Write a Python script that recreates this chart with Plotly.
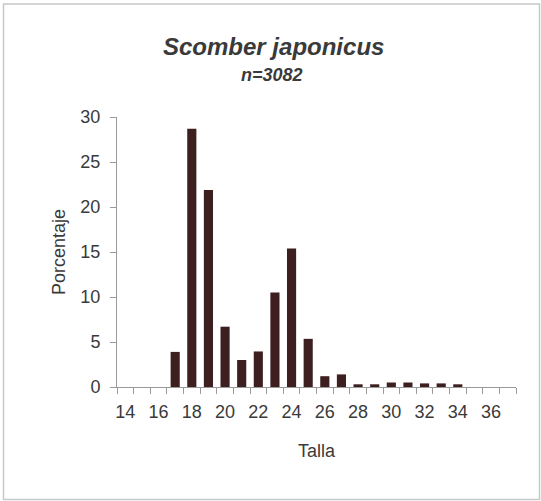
import plotly.graph_objects as go

# talla (cm) y porcentaje
tallas = list(range(14, 38))
porcentaje = [0, 0, 0, 3.9, 28.7, 21.9, 6.7, 3.0, 3.95, 10.5, 15.4, 5.35,
              1.2, 1.4, 0.3, 0.3, 0.5, 0.5, 0.4, 0.4, 0.3, 0, 0, 0]
etiquetas = [str(t) for t in range(14, 37, 2)]

TEXT = "#3a3a3a"
AXIS = "#9a9a9a"
FONT = "Liberation Sans, Arial, sans-serif"

fig = go.Figure(go.Bar(
    x=tallas, y=porcentaje,
    marker=dict(color="#3d1f1f", line=dict(width=0)),
    width=0.55,
))

# plot area in px: x 117-516, y 117-387
L, R, T, B = 117, 25, 117, 114
W, H = 541 - L - R, 501 - T - B


def px(x):
    return (x - L) / W


def py(y):
    return (501 - B - y) / H


fig.update_layout(
    width=541, height=501,
    margin=dict(l=L, r=R, t=T, b=B),
    paper_bgcolor="white", plot_bgcolor="white",
    font=dict(family=FONT, color=TEXT, size=18),
    showlegend=False,
    xaxis=dict(
        range=[13.5, 37.5],
        tickmode="array", tickvals=list(range(14, 37, 2)), ticktext=etiquetas,
        ticks="outside", ticklen=0, tickcolor=AXIS,
        minor=dict(ticks="outside", tick0=13.5, dtick=1, ticklen=6, tickcolor=AXIS),
        showline=True, linecolor=AXIS, linewidth=1,
        showgrid=False, zeroline=False,
        tickfont=dict(size=18, color=TEXT),
        ticklabelstandoff=8,
        title=dict(text="Talla", font=dict(size=18, color=TEXT), standoff=23),
    ),
    yaxis=dict(
        range=[0, 30], tickvals=[0, 5, 10, 15, 20, 25, 30],
        ticks="outside", ticklen=6, tickcolor=AXIS,
        showline=True, linecolor=AXIS, linewidth=1,
        showgrid=False, zeroline=False,
        tickfont=dict(size=18, color=TEXT),
        ticklabelstandoff=6,
        title=dict(text="Porcentaje", font=dict(size=18, color=TEXT), standoff=10),
    ),
    annotations=[
        dict(text="<b><i>Scomber japonicus</i></b>", x=px(273), y=py(47),
             xref="paper", yref="paper", xanchor="center", yanchor="middle",
             showarrow=False, font=dict(size=24, color=TEXT)),
        dict(text="<b><i>n=3082</i></b>", x=px(272), y=py(75),
             xref="paper", yref="paper", xanchor="center", yanchor="middle",
             showarrow=False, font=dict(size=18, color=TEXT)),
    ],
    shapes=[
        dict(type="rect", xref="paper", yref="paper",
             x0=px(3.5), x1=px(539.5), y0=py(499.5), y1=py(4),
             line=dict(color="#c8c8c8", width=1.5)),
    ],
)

fig.write_html("out.html", config={"displayModeBar": False},
               post_script="document.body.style.margin='0';")
